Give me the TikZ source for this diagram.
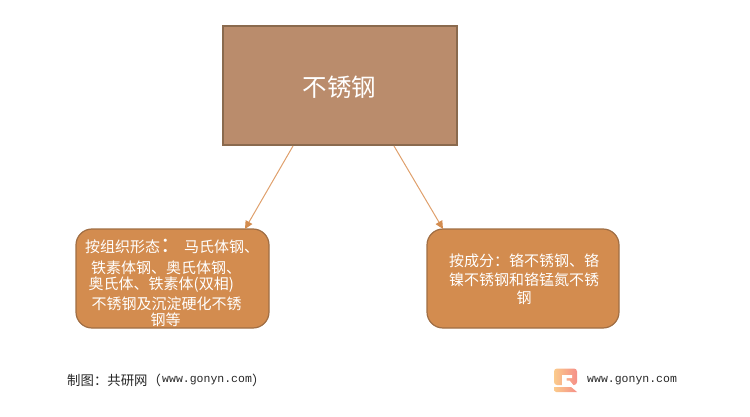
\documentclass[tikz,border=0pt]{standalone}
\usepackage{fontspec}
\setmainfont{Noto Sans CJK SC}
\newfontfamily\urlfont{Liberation Mono}
\usetikzlibrary{arrows.meta}
\definecolor{topfill}{HTML}{BA8C6C}
\definecolor{topline}{HTML}{8A6A4E}
\definecolor{boxfill}{HTML}{D38C4F}
\definecolor{boxline}{HTML}{A06E44}
\definecolor{arrowc}{HTML}{DFA06C}
\definecolor{headc}{HTML}{D38C4F}
\definecolor{logol}{HTML}{FBCB8C}
\definecolor{logor}{HTML}{F58F88}
\tikzset{
  every picture/.style={x=1pt,y=-1pt},
  topbox/.style={draw=topline,fill=topfill,line width=1.2pt,minimum width=234pt,minimum height=119pt,inner sep=0pt},
  softbox/.style={draw=boxline,fill=boxfill,line width=1.2pt,rounded corners=16pt,minimum height=99pt,inner sep=0pt},
  link/.style={draw=arrowc,line width=1pt,-{Triangle[length=8pt,width=7.5pt,fill=headc,color=headc]}},
  boxtext/.style={text=white,inner sep=0pt,font=\fontsize{15}{16}\selectfont},
  foot/.style={text=black!85,inner sep=0pt,anchor=west},
}
\begin{document}
\begin{tikzpicture}
\useasboundingbox (0,0) rectangle (750,417);
\node[topbox] (steel) at (340,85.5) {};
\node[text=white,inner sep=0pt,font=\fontsize{24.5}{26}\selectfont] (steeltext) at (339.5,87) {不锈钢};
\node[softbox,minimum width=193pt] (left) at (172.5,278.5) {};
\node[softbox,minimum width=192pt] (right) at (523,278.5) {};
\coordinate (s1) at (293,146);
\coordinate (e1) at (245,229);
\coordinate (s2) at (394,146);
\coordinate (e2) at (443,229);
\draw[link] (s1) -- (e1);
\draw[link] (s2) -- (e2);
\node[boxtext,anchor=west] (l1a) at (85,247) {按组织形态};
\node[boxtext,anchor=west,font=\fontsize{21}{22}\selectfont] (l1b) at (160,246) {：};
\node[boxtext,anchor=west] (l1c) at (184,247) {马氏体钢、};
\node[boxtext,anchor=west] (l2) at (91,268) {铁素体钢、奥氏体钢、};
\node[boxtext,anchor=west] (l3) at (88.5,285) {奥氏体、铁素体(双相)};
\node[boxtext,anchor=west] (l4) at (91.5,304) {不锈钢及沉淀硬化不锈};
\node[boxtext,anchor=center] (l5) at (165.5,320) {钢等};
\node[boxtext,anchor=west] (r1) at (449,261) {按成分：铬不锈钢、铬};
\node[boxtext,anchor=west] (r2) at (449,280) {镍不锈钢和铬锰氮不锈};
\node[boxtext,anchor=center] (r3) at (524,298) {钢};
\node[foot,font=\fontsize{13.4}{14}\selectfont] (f1) at (67,380) {制图：共研网（};
\node[foot,font=\urlfont\fontsize{11.5}{12}\selectfont] (f2) at (162,380.5) {www.gonyn.com};
\node[foot,font=\fontsize{13.4}{14}\selectfont] (f3) at (252,380) {）};
\node[foot,font=\urlfont\fontsize{11.5}{12}\selectfont] (f4) at (587,381) {www.gonyn.com};
\shade[left color=logol,right color=logor,rounded corners=3pt]
  (554,368.5) rectangle (577,385);
\fill[white] (562,386) -- (562,375) -- (572,375) -- (572,378) -- (566.5,378) -- (566.5,380.5) -- (569.5,380.5) -- (574,386) -- cycle;
\shade[left color=logol,right color=logor]
  (554,387) -- (571,387) -- (577,392) -- (556,392) -- (554,390.5) -- cycle;
\end{tikzpicture}
\end{document}
